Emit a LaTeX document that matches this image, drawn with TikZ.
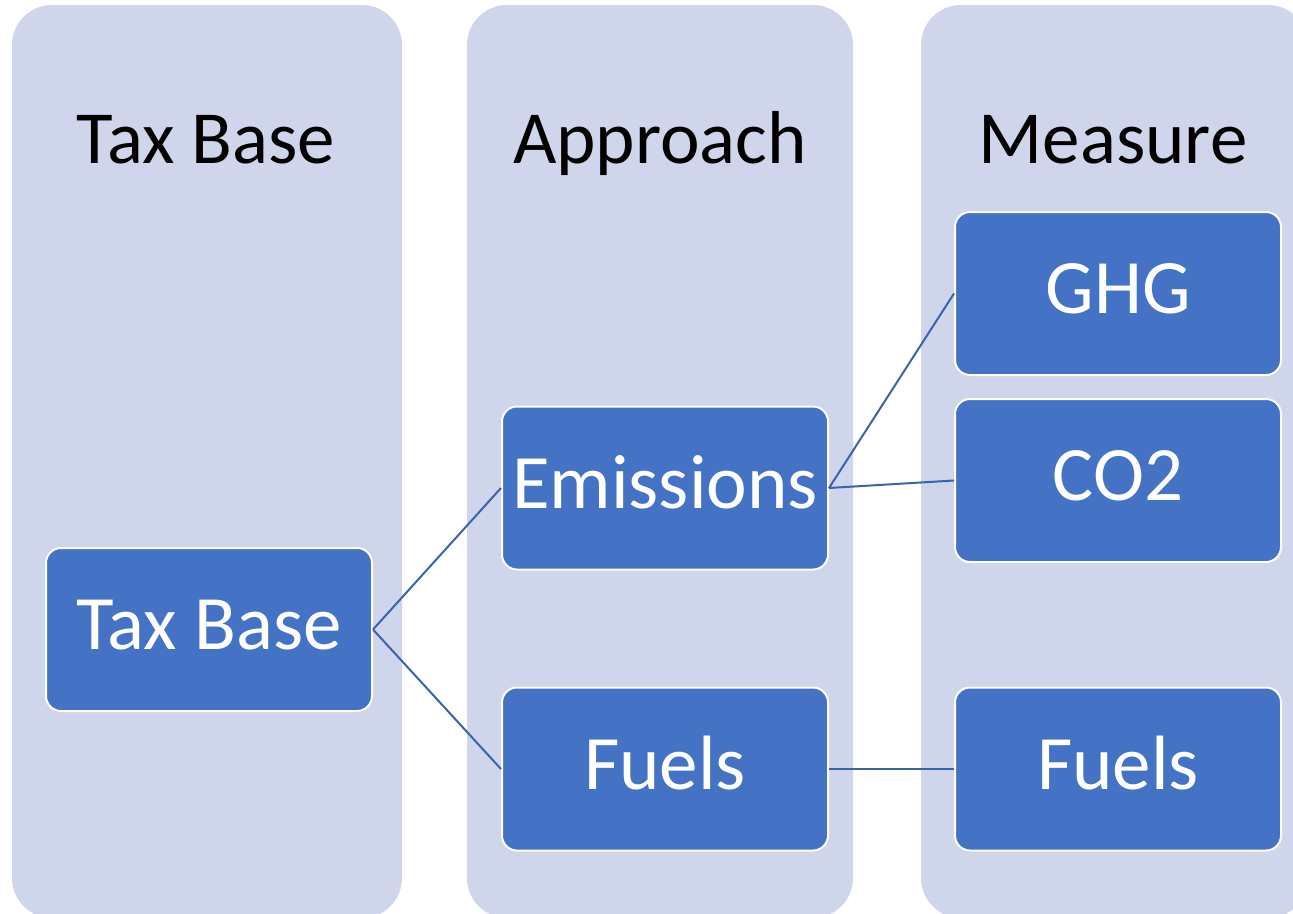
\documentclass[tikz,border=0pt]{standalone}
\usepackage{fontspec}
\setmainfont{Carlito}
\begin{document}
\begin{tikzpicture}[x=1pt,y=-1pt,
  lane/.style={fill=laneblue,rounded corners=40pt},
  head/.style={anchor=base,text=black,font=\fontsize{75}{90}\selectfont},
  item/.style={draw=white,line width=2pt,fill=itemblue,rounded corners=15pt,
    minimum width=326pt,minimum height=163pt,text=white,
    text height=55pt,text depth=15pt,inner sep=0pt,
    font=\fontsize{77}{92}\selectfont},
  link/.style={draw=linkblue,line width=2pt}]
\definecolor{laneblue}{HTML}{CFD5EA}
\definecolor{itemblue}{HTML}{4472C4}
\definecolor{linkblue}{HTML}{3A63AE}
\useasboundingbox (0,0) rectangle (1293,913);
\begin{scope}
  \clip (0,0) rectangle (1293,913);
  % three lanes
  \fill[lane] (12,5) rectangle (402,918);
  \fill[lane] (467,5) rectangle (853,918);
  \fill[lane] (921,5) rectangle (1308,918);
\end{scope}
% lane headings
\node[head] (h1) at (206,163) {Tax Base};
\node[head] (h2) at (660,163) {Approach};
\node[head] (h3) at (1113,163) {Measure};
% boxes
\node[item] (tax) at (209,629.5) {Tax Base};
\node[item] (emi) at (665,488) {Emissions};
\node[item] (fue) at (665,769) {Fuels};
\node[item] (ghg) at (1118,293.5) {GHG};
\node[item] (co2) at (1118,480.5) {CO2};
\node[item] (fue2) at (1118,769) {Fuels};
% connectors
\draw[link] (tax.east) -- (emi.west);
\draw[link] (tax.east) -- (fue.west);
\draw[link] (emi.east) -- (ghg.west);
\draw[link] (emi.east) -- (co2.west);
\draw[link] (fue.east) -- (fue2.west);
\end{tikzpicture}
\end{document}
